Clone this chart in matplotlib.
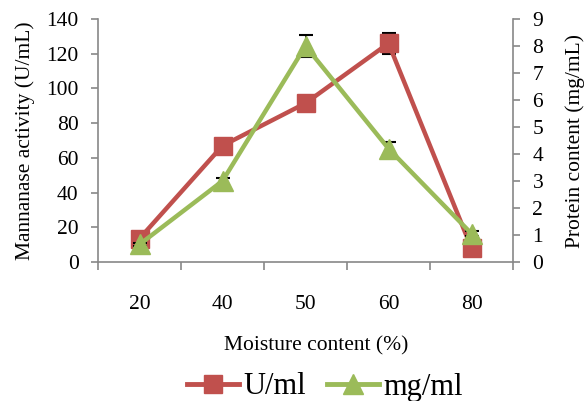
import matplotlib
matplotlib.use("Agg")
import matplotlib.pyplot as plt
from matplotlib.lines import Line2D
import numpy as np

plt.rcParams['font.family'] = ['Liberation Serif', 'DejaVu Serif']

categories = ["20", "40", "50", "60", "80"]
activity = [13.5, 67, 91.5, 126, 8]          # U/mL
activity_err = [1.0, 1.5, 1.5, 6.0, 1.5]
protein = [0.65, 3.0, 8.0, 4.2, 1.05]         # mg/mL
protein_err = [0.05, 0.1, 0.4, 0.25, 0.1]

red = "#c0504d"
green = "#9bbb59"

fig = plt.figure(figsize=(5.87, 4.01), dpi=100)
ax = fig.add_axes([98/587, 1-262/401, (513-98)/587, (262-19)/401])
ax2 = ax.twinx()

x = np.arange(len(categories))
ax.errorbar(x, activity, yerr=activity_err, color=red, lw=3.2, marker='s',
            markersize=13, ecolor='black', elinewidth=1.2, capsize=5, capthick=1.5,
            zorder=3)
ax2.errorbar(x, protein, yerr=protein_err, color=green, lw=3.2, marker='^',
             markersize=14, ecolor='black', elinewidth=1.2, capsize=5, capthick=1.5,
             zorder=3)

ax.set_xlim(-0.5, len(categories)-0.5)
ax.set_ylim(0, 140)
ax.set_yticks(range(0, 141, 20))
ax2.set_ylim(0, 9)
ax2.set_yticks(range(0, 10))

fs = 15.5
ax.set_xticks(x)
ax.set_xticklabels(categories)
ax.set_xticks(np.arange(-0.5, len(categories), 1.0), minor=True)
ax.tick_params(axis='x', which='major', length=0, pad=24, labelsize=fs)
ax.tick_params(axis='x', which='minor', length=6, width=1.2, color='#888888', direction='out')
ax.tick_params(axis='y', length=5, width=1.2, color='#888888', labelsize=fs, pad=9)
ax2.tick_params(axis='y', length=5, width=1.2, color='#888888', labelsize=fs, pad=9)

for a in (ax, ax2):
    a.spines['top'].set_visible(False)
    for s in ['left', 'right', 'bottom']:
        a.spines[s].set_color('#888888')
        a.spines[s].set_linewidth(1.2)
ax.spines['right'].set_visible(False)
ax2.spines['left'].set_visible(False)
ax2.spines['bottom'].set_visible(False)

ax.set_ylabel("Mannanase activity (U/mL)", fontsize=fs, labelpad=8)
ax2.set_ylabel("Protein content (mg/mL)", fontsize=fs, labelpad=16)
ax.set_xlabel("Moisture content (%)", fontsize=fs, labelpad=18)
ax.xaxis.set_label_coords(0.525, -0.305)

ax.set_zorder(ax2.get_zorder()-1)
ax2.patch.set_visible(False)

handles = [Line2D([], [], color=red, lw=3.5, marker='s', markersize=13),
           Line2D([], [], color=green, lw=3.5, marker='^', markersize=14)]
fig.legend(handles, ['U/ml', 'mg/ml'], loc='center', bbox_to_anchor=(325/587, 1-387/401),
           ncol=2, frameon=False, fontsize=22, handlelength=1.7, columnspacing=0.7,
           handletextpad=0.15, borderaxespad=0)

fig.savefig("out.png", dpi=100)
